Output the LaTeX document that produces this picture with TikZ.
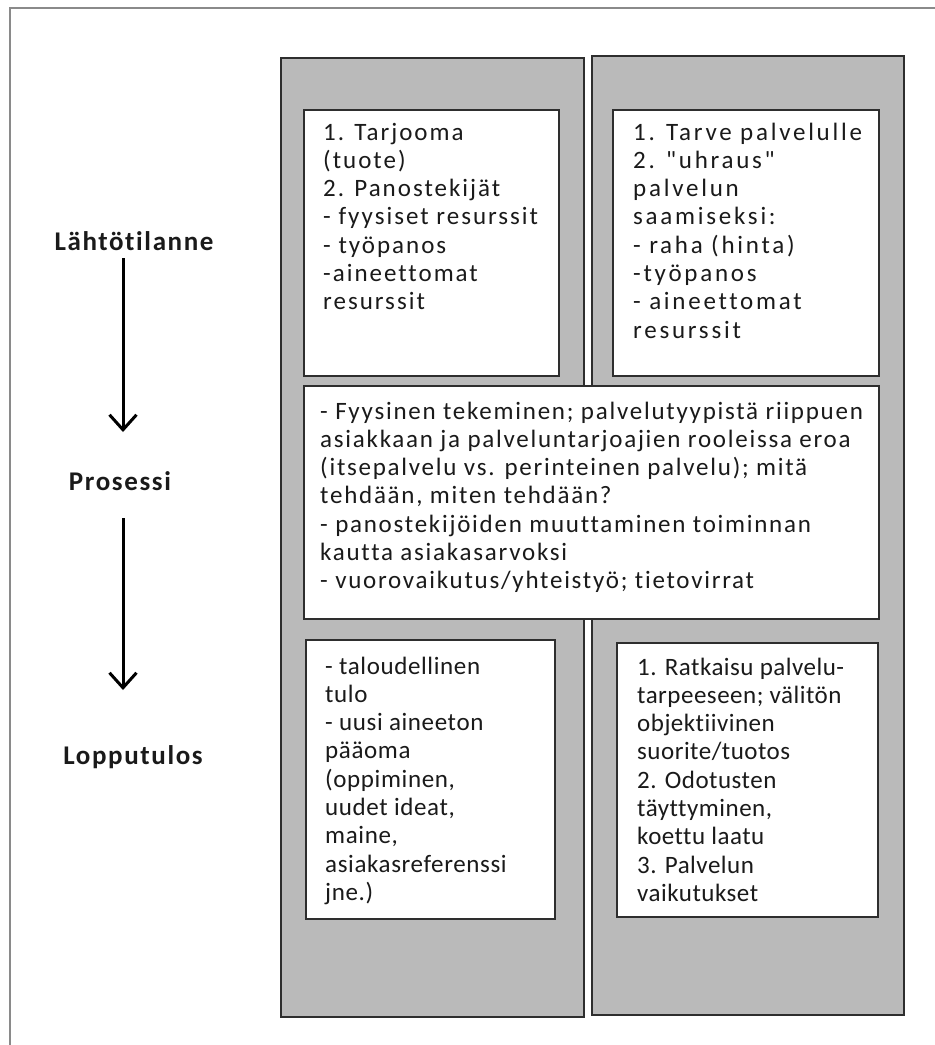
\documentclass[tikz,border=0pt]{standalone}
\usepackage{fontspec}
\setmainfont{Carlito}[Ligatures=NoCommon]
\newfontfamily\fTL{Carlito}[LetterSpace=8,Ligatures=NoCommon]
\newfontfamily\fTR{Carlito}[LetterSpace=11,Ligatures={NoCommon,TeXOff}]
\newfontfamily\fM{Carlito}[LetterSpace=7,Ligatures=NoCommon]
\newfontfamily\fBL{Carlito}[LetterSpace=2.5,Ligatures=NoCommon]
\newfontfamily\fBR{Carlito}[LetterSpace=2,Ligatures=NoCommon]
\newfontfamily\fLab{Carlito}[LetterSpace=6,Ligatures=NoCommon]
\usetikzlibrary{arrows.meta}
\definecolor{panelgray}{HTML}{BABABA}
\definecolor{edge}{HTML}{2E2E2E}
\definecolor{framegray}{HTML}{8A8A8A}
\definecolor{ink}{HTML}{1A1A1A}
\tikzset{
  frameline/.style={draw=framegray,line width=2.2pt},
  panel/.style={rectangle,fill=panelgray,draw=edge,line width=2.2pt,anchor=north west,inner sep=0pt},
  whitebox/.style={rectangle,fill=white,draw=edge,line width=2pt,anchor=north west,inner sep=0pt},
  txt/.style={anchor=north west,inner sep=0pt,align=left,text=ink,font=\fontsize{25}{28.3}\selectfont},
  lab/.style={inner sep=0pt,text=ink,font=\fLab\fontsize{27}{30}\selectfont\bfseries},
  arr/.style={line width=3pt,-{Straight Barb[length=15pt,width=27pt,line width=3pt]}}
}
\begin{document}
\begin{tikzpicture}[x=1pt,y=-1pt]
\useasboundingbox (0,0) rectangle (935,1045);
% outer frame
\draw[frameline] (10,1050) -- (10,8) -- (940,8);
% panels
\node[panel,minimum width=303pt,minimum height=959pt] (pL) at (280,57) {};
\node[panel,minimum width=312pt,minimum height=959pt] (pR) at (591,55) {};
% white boxes
\node[whitebox,minimum width=255pt,minimum height=266pt] (bTL) at (303,109) {};
\node[whitebox,minimum width=266pt,minimum height=266pt] (bTR) at (612,109) {};
\node[whitebox,minimum width=575pt,minimum height=233pt] (bM) at (303,385) {};
\node[whitebox,minimum width=249pt,minimum height=279pt] (bBL) at (305,639) {};
\node[whitebox,minimum width=261pt,minimum height=274pt] (bBR) at (616,642) {};
% texts
\node[txt,font=\fTL\fontsize{25}{28.3}\selectfont] (tTL) at (323,120) {\strut 1. Tarjooma\\(tuote)\\2. Panostekijät\\- fyysiset resurssit\\- työpanos\\-aineettomat\\resurssit};
\node[txt,font=\fTR\fontsize{25}{28.3}\selectfont] (tTR) at (633,120) {\strut 1. Tarve palvelulle\\2. "uhraus"\\palvelun\\saamiseksi:\\- raha (hinta)\\-työpanos\\- aineettomat\\resurssit};
\node[txt,font=\fM\fontsize{25}{28.3}\selectfont] (tM) at (320,399) {\strut - Fyysinen tekeminen; palvelutyypistä riippuen\\asiakkaan ja palveluntarjoajien rooleissa eroa\\(itsepalvelu vs. perinteinen palvelu); mitä\\tehdään, miten tehdään?\\- panostekijöiden muuttaminen toiminnan\\kautta asiakasarvoksi\\- vuorovaikutus/yhteistyö; tietovirrat};
\node[txt,font=\fBL\fontsize{25}{28.3}\selectfont] (tBL) at (325,654) {\strut - taloudellinen\\tulo\\- uusi aineeton\\pääoma\\(oppiminen,\\uudet ideat,\\maine,\\asiakasreferenssi\\jne.)};
\node[txt,font=\fBR\fontsize{25}{28.3}\selectfont] (tBR) at (637,655) {\strut 1. Ratkaisu palvelu-\\tarpeeseen; välitön\\objektiivinen\\suorite/tuotos\\2. Odotusten\\täyttyminen,\\koettu laatu\\3. Palvelun\\vaikutukset};
% stage labels
\node[lab] (l1) at (134,241) {Lähtötilanne};
\node[lab] (l2) at (120,481) {Prosessi};
\node[lab] (l3) at (133,757) {Lopputulos};
\coordinate (a1s) at (123,258);
\coordinate (a1e) at (123,432);
\coordinate (a2s) at (123,518);
\coordinate (a2e) at (123,690);
\draw[arr] (a1s) -- (a1e);
\draw[arr] (a2s) -- (a2e);
\end{tikzpicture}
\end{document}
